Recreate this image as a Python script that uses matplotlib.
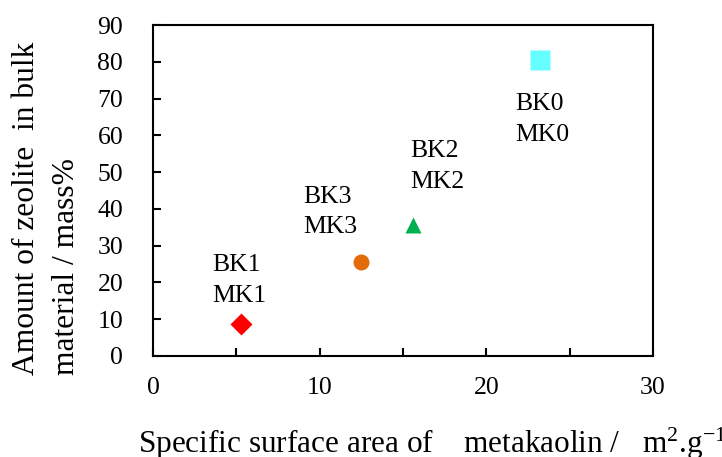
import matplotlib
matplotlib.use("Agg")
import matplotlib.pyplot as plt
from matplotlib.ticker import MultipleLocator

plt.rcParams['font.family'] = ['Liberation Serif', 'DejaVu Serif']
plt.rcParams['mathtext.fontset'] = 'custom'
plt.rcParams['mathtext.rm'] = 'Liberation Serif'
plt.rcParams['mathtext.it'] = 'Liberation Serif:italic'

# specific surface area (m2/g) vs zeolite content (mass%)
samples = ["BK1\nMK1", "BK3\nMK3", "BK2\nMK2", "BK0\nMK0"]
surface_area = [5.3, 12.5, 15.6, 23.2]
zeolite = [8.6, 25.5, 35.5, 80.6]

markers = ["D", "o", "^", "s"]
marker_sizes = [10.7, 11.5, 11.5, 14.5]
colors = ["#FF0000", "#E36C0A", "#00B050", "#66FFFF"]
# label offsets from each marker, in pixels (left edge, vertical middle)
label_offsets = [(-29, 44), (-58, 50), (-3, 59), (-24, -60)]

fig = plt.figure(figsize=(7.22, 4.57), dpi=100)
ax = fig.add_axes([153 / 722, 1 - 356 / 457, 500 / 722, 331 / 457])

for x, y, m, ms, c, name, off in zip(surface_area, zeolite, markers,
                                      marker_sizes, colors, samples, label_offsets):
    ax.plot(x, y, marker=m, ms=ms, color=c, mec='none', linestyle='none')
    ax.annotate(name, (x, y), xytext=off, textcoords='offset pixels',
                ha='left', va='center', fontsize=18.5, linespacing=1.5)

ax.set_xlim(0, 30)
ax.set_ylim(0, 90)
ax.xaxis.set_major_locator(MultipleLocator(10))
ax.xaxis.set_minor_locator(MultipleLocator(5))
ax.yaxis.set_major_locator(MultipleLocator(10))
ax.tick_params(which='both', direction='in', length=6, width=1.5, labelsize=18.5)
ax.tick_params(axis='x', pad=15)
ax.tick_params(axis='y', pad=21.5)
for s in ax.spines.values():
    s.set_linewidth(1.5)

ax.set_xlabel("Specific surface area of    metakaolin /   m$^{2}$.g$^{\\mathrm{-1}}$",
              fontsize=22.5, ha='left', va='baseline')
ax.xaxis.set_label_coords(-15 / 500, -97 / 331)

fig.text(47 / 722, 1 - 375 / 457, "Amount of zeolite  in bulk\nmaterial / mass%",
         rotation=90, ha='center', va='bottom', multialignment='left',
         fontsize=22.7, linespacing=1.5)

fig.savefig("out.png", dpi=100)
